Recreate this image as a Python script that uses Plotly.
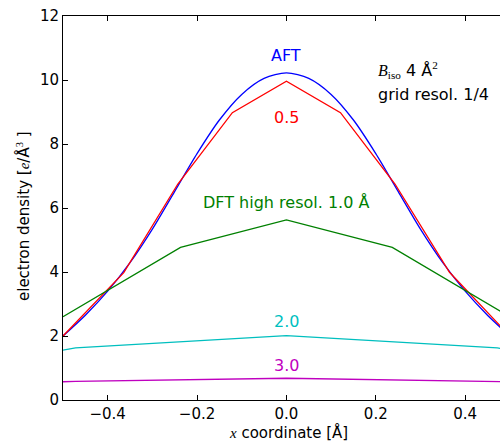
import plotly.graph_objects as go

# ---- data ----
x_aft = [-0.5, -0.45, -0.4, -0.35, -0.3, -0.25, -0.2, -0.15, -0.1, -0.05, 0.0,
         0.05, 0.1, 0.15, 0.2, 0.25, 0.3, 0.35, 0.4, 0.45, 0.5]
y_aft = [2.0, 2.65, 3.4, 4.29, 5.34, 6.52, 7.70, 8.75, 9.55, 10.05, 10.22,
         10.05, 9.55, 8.75, 7.70, 6.52, 5.34, 4.29, 3.4, 2.65, 2.0]

x_r05 = [-0.5, -0.364, -0.243, -0.121, 0.0, 0.121, 0.243, 0.365, 0.5]
y_r05 = [2.0, 3.98, 6.75, 8.98, 9.96, 8.98, 6.75, 3.99, 2.0]

x_r10 = [-0.5, -0.237, 0.0, 0.237, 0.5]
y_r10 = [2.6, 4.77, 5.63, 4.77, 2.6]

x_r20 = [-0.5, -0.472, 0.0, 0.472, 0.5]
y_r20 = [1.56, 1.63, 2.01, 1.63, 1.56]

x_r30 = [-0.5, -0.472, 0.0, 0.472, 0.5]
y_r30 = [0.57, 0.585, 0.68, 0.585, 0.57]

x_ticks = [-0.4, -0.2, 0.0, 0.2, 0.4]
x_ticktext = ["\u22120.4", "\u22120.2", "0.0", "0.2", "0.4"]
y_ticks = [0, 2, 4, 6, 8, 10, 12]
y_ticktext = ["0", "2", "4", "6", "8", "10", "12"]

C_BLUE = "#0000ff"
C_RED = "#ff0000"
C_GREEN = "#008000"
C_CYAN = "#00bfbf"
C_MAG = "#bf00bf"

FONT = "DejaVu Sans"
SERIF = "Liberation Serif"

fig = go.Figure()
fig.add_trace(go.Scatter(x=x_aft, y=y_aft, mode="lines", line=dict(color=C_BLUE, width=1.3, shape="spline", smoothing=0.8), name="AFT"))
fig.add_trace(go.Scatter(x=x_r05, y=y_r05, mode="lines", line=dict(color=C_RED, width=1.3), name="0.5"))
fig.add_trace(go.Scatter(x=x_r10, y=y_r10, mode="lines", line=dict(color=C_GREEN, width=1.3), name="1.0"))
fig.add_trace(go.Scatter(x=x_r20, y=y_r20, mode="lines", line=dict(color=C_CYAN, width=1.3), name="2.0"))
fig.add_trace(go.Scatter(x=x_r30, y=y_r30, mode="lines", line=dict(color=C_MAG, width=1.3), name="3.0"))

labels = [
    ("AFT", 0.0, 10.77, C_BLUE),
    ("0.5", 0.0, 8.84, C_RED),
    ("DFT high resol. 1.0 Å", 0.0, 6.17, C_GREEN),
    ("2.0", 0.0, 2.44, C_CYAN),
    ("3.0", 0.0, 1.09, C_MAG),
]
ann = []
for t, x, y, c in labels:
    ann.append(dict(x=x, y=y, xref="x", yref="y", text=t, showarrow=False,
                    xanchor="center", yanchor="middle",
                    font=dict(family=FONT, size=16, color=c)))

ann.append(dict(x=0.2, y=(400 - 70) / 32.03, xref="x", yref="y",
                text=f'<span style="font-family:{SERIF}"><i>B</i><sub>iso</sub></span> 4 Å<span style="font-family:{SERIF}"><sup>2</sup></span>',
                showarrow=False, xanchor="left", yanchor="middle",
                font=dict(family=FONT, size=16, color="black")))
ann.append(dict(x=0.2, y=(400 - 94) / 32.03, xref="x", yref="y",
                text="grid resol. 1/4", showarrow=False, xanchor="left", yanchor="middle",
                font=dict(family=FONT, size=16, color="black")))

# axis titles
ann.append(dict(x=(288 - 63) / 437, y=(400 - 432) / 384, xref="paper", yref="paper",
                text=f'<span style="font-family:{SERIF}"><i>x</i></span> coordinate [Å]',
                showarrow=False, xanchor="center", yanchor="middle",
                font=dict(family=FONT, size=15, color="black")))
ann.append(dict(x=(24 - 63) / 437, y=(400 - 216) / 384, xref="paper", yref="paper",
                text=f'electron density [<span style="font-family:{SERIF}"><i>e</i></span>/Å<span style="font-family:{SERIF}"><sup>3</sup></span> ]',
                textangle=-90, showarrow=False, xanchor="center", yanchor="middle",
                font=dict(family=FONT, size=15, color="black")))

fig.update_layout(
    width=500, height=441,
    margin=dict(l=63, r=0, t=16, b=41, pad=0),
    paper_bgcolor="white", plot_bgcolor="white",
    showlegend=False,
    annotations=ann,
    font=dict(family=FONT, size=15, color="black"),
)
fig.update_xaxes(range=[-0.5, 0.478], tickvals=x_ticks, ticktext=x_ticktext,
                 showgrid=False, zeroline=False, showline=True, linecolor="black", linewidth=1,
                 mirror="ticks", ticks="inside", ticklen=5, tickcolor="black", tickwidth=1,
                 tickfont=dict(family=FONT, size=15, color="black"))
fig.update_yaxes(range=[0, 12], tickvals=y_ticks, ticktext=y_ticktext,
                 showgrid=False, zeroline=False, showline=True, linecolor="black", linewidth=1,
                 mirror=False, ticks="inside", ticklen=5, tickcolor="black", tickwidth=1,
                 tickfont=dict(family=FONT, size=15, color="black"))

fig.write_html("out.html", config={"displayModeBar": False},
               post_script="document.body.style.margin='0';document.body.style.overflow='hidden';")
